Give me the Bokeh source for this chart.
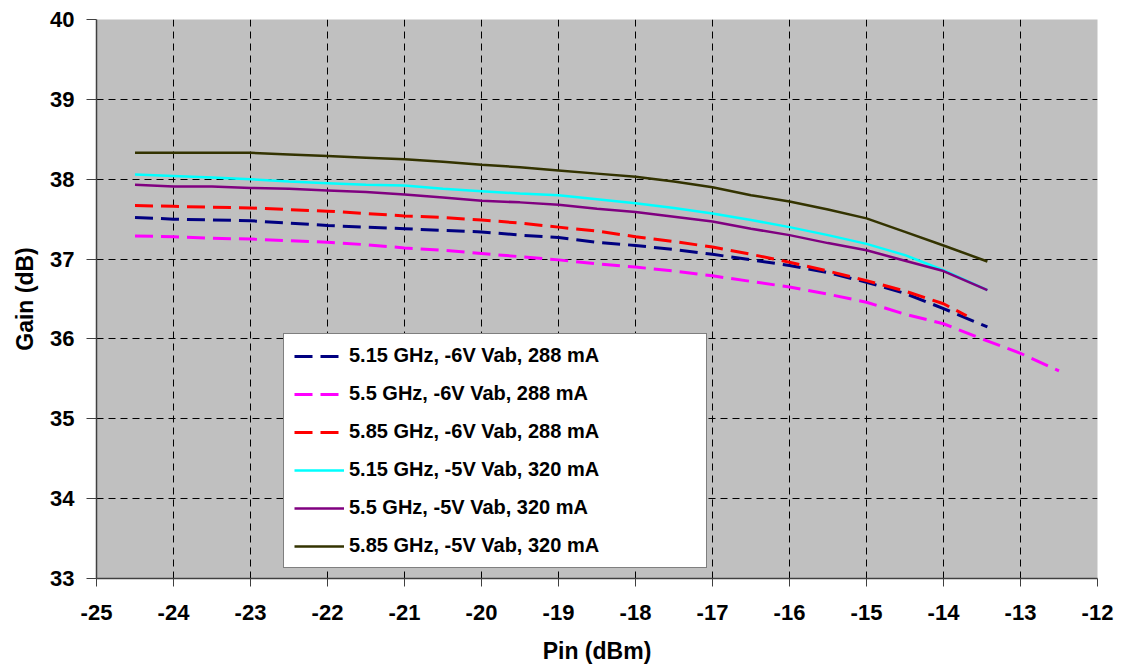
from bokeh.plotting import figure
from bokeh.models import Range1d, SingleIntervalTicker, Legend, LegendItem, PrintfTickFormatter
from bokeh.embed import file_html
from bokeh.resources import INLINE

pin_a = [-24.5, -24.0, -23.5, -23.0, -22.5, -22.0, -21.5, -21.0, -20.5, -20.0, -19.5, -19.0,
         -18.5, -18.0, -17.5, -17.0, -16.5, -16.0, -15.5, -15.0, -14.5, -14.0, -13.43]
pin_red = [-24.5, -24.0, -23.5, -23.0, -22.5, -22.0, -21.5, -21.0, -20.5, -20.0, -19.5, -19.0,
           -18.5, -18.0, -17.5, -17.0, -16.5, -16.0, -15.5, -15.0, -14.5, -14.0, -13.7]
pin_mag = [-24.5, -24.0, -23.5, -23.0, -22.5, -22.0, -21.5, -21.0, -20.5, -20.0, -19.5, -19.0,
           -18.5, -18.0, -17.5, -17.0, -16.5, -16.0, -15.5, -15.0, -14.5, -14.0, -13.5, -13.0, -12.5]

g_515_6 = [37.52, 37.50, 37.49, 37.48, 37.45, 37.42, 37.40, 37.38, 37.36, 37.34, 37.30, 37.27,
           37.21, 37.17, 37.12, 37.06, 36.99, 36.92, 36.83, 36.71, 36.57, 36.38, 36.15]
g_55_6 = [37.29, 37.28, 37.26, 37.25, 37.23, 37.21, 37.18, 37.14, 37.11, 37.07, 37.03, 36.99,
          36.94, 36.90, 36.85, 36.79, 36.72, 36.65, 36.56, 36.46, 36.31, 36.19, 36.00, 35.82, 35.60]
g_585_6 = [37.67, 37.66, 37.65, 37.64, 37.62, 37.60, 37.57, 37.54, 37.52, 37.49, 37.45, 37.40,
           37.35, 37.28, 37.22, 37.15, 37.06, 36.96, 36.85, 36.73, 36.60, 36.44, 36.29]
g_515_5 = [38.06, 38.04, 38.02, 38.00, 37.97, 37.95, 37.93, 37.92, 37.88, 37.85, 37.82, 37.80,
           37.75, 37.70, 37.64, 37.57, 37.49, 37.40, 37.30, 37.19, 37.05, 36.86, 36.61]
g_55_5 = [37.93, 37.91, 37.91, 37.89, 37.88, 37.86, 37.84, 37.81, 37.77, 37.73, 37.71, 37.68,
          37.63, 37.59, 37.53, 37.47, 37.38, 37.30, 37.20, 37.11, 36.98, 36.85, 36.61]
g_585_5 = [38.33, 38.33, 38.33, 38.33, 38.31, 38.29, 38.27, 38.25, 38.22, 38.18, 38.15, 38.11,
           38.07, 38.03, 37.97, 37.90, 37.80, 37.72, 37.62, 37.51, 37.34, 37.17, 36.97]

labels = ["5.15 GHz, -6V Vab, 288 mA", "5.5 GHz, -6V Vab, 288 mA", "5.85 GHz, -6V Vab, 288 mA",
          "5.15 GHz, -5V Vab, 320 mA", "5.5 GHz, -5V Vab, 320 mA", "5.85 GHz, -5V Vab, 320 mA"]

series = [
    (pin_a, g_515_6, "#000080", "18 8"),
    (pin_mag, g_55_6, "#FF00FF", "18 8"),
    (pin_red, g_585_6, "#FF0000", "18 8"),
    (pin_a, g_515_5, "#00FFFF", "solid"),
    (pin_a, g_55_5, "#800080", "solid"),
    (pin_a, g_585_5, "#333300", "solid"),
]

FONT = "Liberation Sans"

p = figure(width=1135, height=668, output_backend="svg", toolbar_location=None,
           x_range=Range1d(-25, -12), y_range=Range1d(33, 40),
           min_border_left=96, min_border_right=38, min_border_top=19, min_border_bottom=90)
p.background_fill_color = "#C0C0C0"
p.border_fill_color = "white"
p.outline_line_color = None

for ax in (p.xaxis[0], p.yaxis[0]):
    ax.ticker = SingleIntervalTicker(interval=1)
    ax.formatter = PrintfTickFormatter(format="%d")
    ax.axis_line_color = "#404040"
    ax.axis_line_width = 1.5
    ax.major_tick_line_color = "#404040"
    ax.major_tick_in = 0
    ax.minor_tick_line_color = None
    ax.major_label_text_font = FONT
    ax.major_label_text_font_style = "bold"
    ax.major_label_text_font_size = "22px"
    ax.major_label_text_color = "black"
    ax.axis_label_text_font = FONT
    ax.axis_label_text_font_style = "bold"
    ax.axis_label_text_font_size = "23px"
    ax.axis_label_text_color = "black"

p.xaxis.axis_label = "Pin (dBm)"
p.yaxis.axis_label = "Gain (dB)"
p.xaxis.major_tick_out = 8
p.yaxis.major_tick_out = 10
p.xaxis.major_label_standoff = 18
p.xaxis.axis_label_standoff = 15
p.yaxis.major_label_standoff = 12
p.yaxis.axis_label_standoff = 9

p.grid.grid_line_color = "black"
p.grid.grid_line_dash = "7 5"
p.grid.grid_line_width = 1

items = []
for (xs, ys, color, dash), lab in zip(series, labels):
    r = p.line(xs, ys, line_color=color, line_width=3 if dash != "solid" else 2.5,
               line_dash=dash)
    items.append(LegendItem(label=lab, renderers=[r]))

legend = Legend(items=items, location=(187, 10))
legend.label_text_font = FONT
legend.label_text_font_style = "bold"
legend.label_text_font_size = "20px"
legend.label_text_color = "black"
legend.glyph_width = 50
legend.glyph_height = 22
legend.label_height = 22
legend.label_width = 347
legend.label_standoff = 5
legend.spacing = 15
legend.padding = 10
legend.margin = 0
legend.border_line_color = "black"
legend.border_line_width = 1
legend.background_fill_color = "white"
legend.background_fill_alpha = 1
p.add_layout(legend)

open("out.html", "w").write(file_html(p, INLINE))
